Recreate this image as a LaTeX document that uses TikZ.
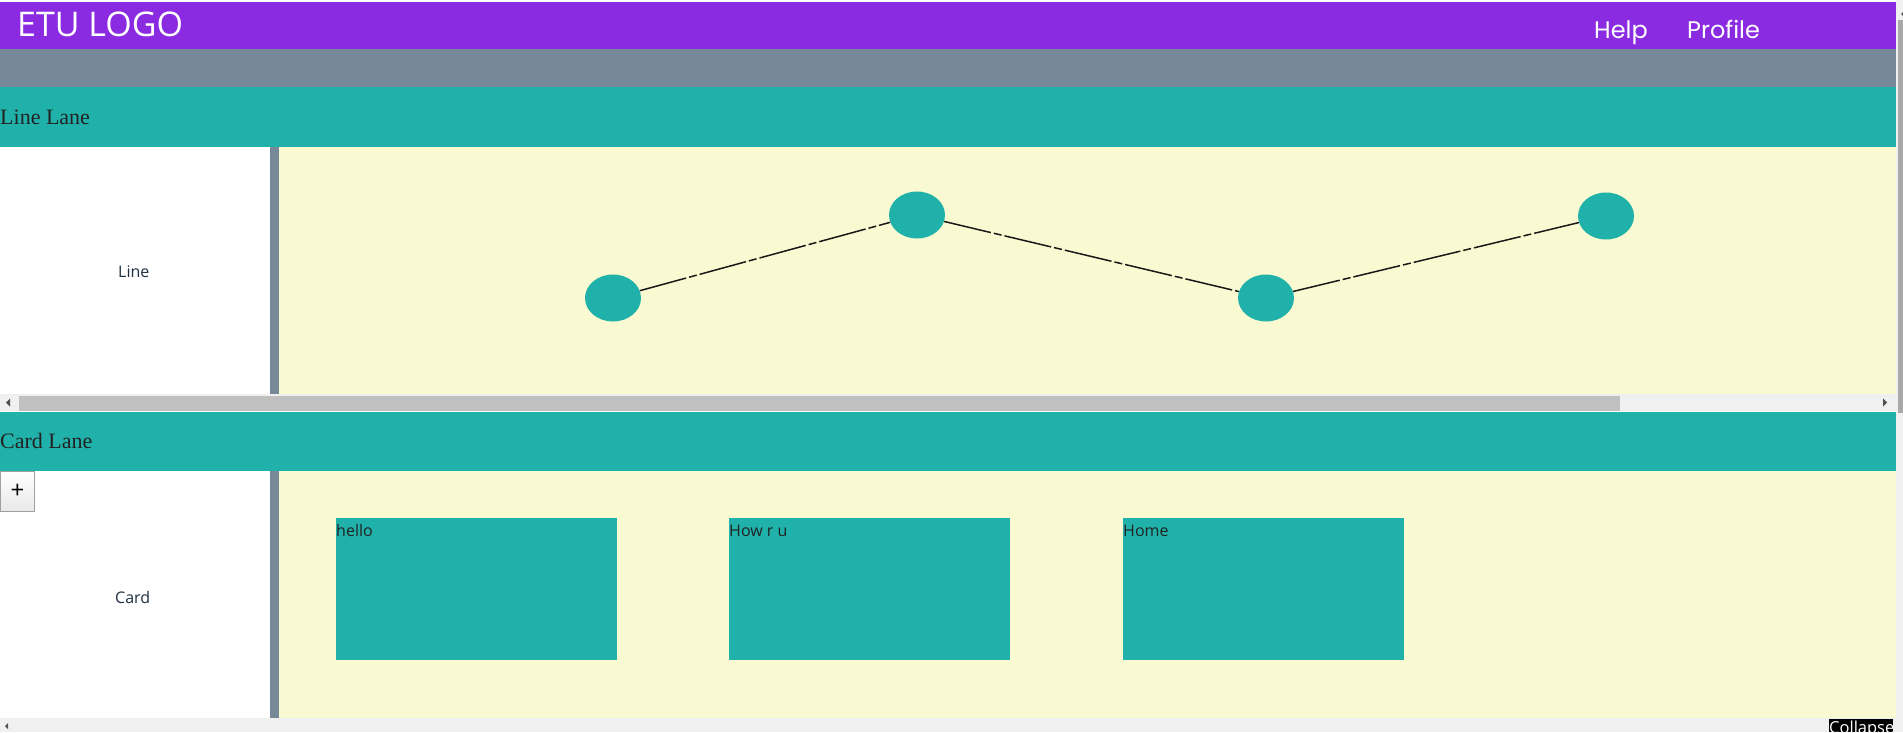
\documentclass[tikz,border=0pt]{standalone}
\usepackage{fontspec}
\setmainfont{Liberation Serif}
\newfontfamily\uifont{Open Sans}
\newfontfamily\navfont{Poppins}
\usetikzlibrary{shapes.geometric}
\definecolor{hdr}{HTML}{8A2BE2}
\definecolor{slate}{HTML}{778899}
\definecolor{lanegreen}{HTML}{20B2AA}
\definecolor{paper}{HTML}{FAFAD2}
\definecolor{track}{HTML}{F0F0F0}
\definecolor{thumb}{HTML}{C0C0C0}
\definecolor{vthumb}{HTML}{A8A8A8}
\definecolor{arrowgray}{HTML}{505050}
\definecolor{inktext}{HTML}{222222}
\definecolor{labeltext}{HTML}{1F2F40}
\definecolor{btnborder}{HTML}{A0A0A0}
\tikzset{
  navtext/.style={text=white, inner sep=0pt, anchor=base west, font=\navfont\fontsize{24}{27}\selectfont},
  logotext/.style={text=white, inner sep=0pt, anchor=base west, font=\uifont\fontsize{34}{37}\selectfont},
  lanetitle/.style={text=inktext, inner sep=0pt, anchor=base west, font=\fontsize{22}{25}\selectfont},
  lanelabel/.style={text=labeltext, inner sep=0pt, anchor=base west, font=\uifont\fontsize{16}{18}\selectfont},
  cardbox/.style={fill=lanegreen, draw=none, anchor=north west, minimum width=281pt, minimum height=142pt, inner sep=0pt},
  cardtext/.style={text=inktext, inner sep=0pt, anchor=base west, font=\uifont\fontsize{16}{18}\selectfont},
  dot/.style={ellipse, fill=lanegreen, draw=none, minimum width=56pt, minimum height=47pt, inner sep=0pt},
  link/.style={draw=black!90, line width=1.5pt, dash pattern=on 48pt off 3pt on 8pt off 3pt},
  btn/.style={draw=btnborder, line width=1pt, top color=white, bottom color=black!9, anchor=north west, minimum width=34pt, minimum height=40pt, inner sep=0pt, font=\uifont\fontsize{24}{26}\selectfont, text=black},
}
\begin{document}
\begin{tikzpicture}[x=1pt,y=-1pt]
\useasboundingbox (0,0) rectangle (1903,732);
\fill[white] (0,0) rectangle (1903,732);
% header bars
\fill[hdr] (0,2) rectangle (1896,49);
\fill[slate] (0,49) rectangle (1896,87);
\fill[lanegreen] (0,87) rectangle (1896,147);
% line lane body
\fill[white] (0,147) rectangle (270,394);
\fill[slate] (270,147) rectangle (279,394);
\fill[paper] (279,147) rectangle (1896,394);
% horizontal scrollbar
\fill[track] (0,394) rectangle (1896,411);
\fill[thumb] (19,396) rectangle (1620,411);
\fill[arrowgray] (6,402.5) -- (10,398.5) -- (10,406.5) -- cycle;
\fill[arrowgray] (1887,402.5) -- (1883,398.5) -- (1883,406.5) -- cycle;
% card lane
\fill[lanegreen] (0,412) rectangle (1896,471);
\fill[white] (0,471) rectangle (270,718);
\fill[slate] (270,471) rectangle (279,718);
\fill[paper] (279,471) rectangle (1896,718);
% bottom scrollbar track
\fill[track] (0,718) rectangle (1896,732);
\fill[arrowgray] (5,726) -- (8,723) -- (8,729) -- cycle;
% vertical scrollbar
\fill[track] (1896,0) rectangle (1903,732);
\fill[vthumb] (1898,20) rectangle (1903,413);
\fill[arrowgray] (1901,14) -- (1903,12) -- (1903,16) -- cycle;

% texts in header
\node[logotext] (logo) at (17,36) {ETU LOGO};
\node[navtext] (help) at (1594,38) {Help};
\node[navtext] (profile) at (1687,38) {Profile};

% lane titles
\node[lanetitle] (linelane) at (0,124) {Line Lane};
\node[lanetitle] (cardlane) at (0,448) {Card Lane};
\node[lanelabel] (linelbl) at (118,277) {Line};
\node[lanelabel] (cardlbl) at (115,603) {Card};

% plus button
\node[btn] (plus) at (0,471) {+};

% line chart
\node[dot] (p1) at (613,298) {};
\node[dot] (p2) at (917,215) {};
\node[dot] (p3) at (1266,298) {};
\node[dot] (p4) at (1606,216) {};
\draw[link] (p1) -- (p2);
\draw[link] (p2) -- (p3);
\draw[link] (p3) -- (p4);

% cards
\node[cardbox] (c1) at (336,518) {};
\node[cardbox] (c2) at (729,518) {};
\node[cardbox] (c3) at (1123,518) {};
\node[cardtext] (t1) at (336,536) {hello};
\node[cardtext] (t2) at (729,536) {How r u};
\node[cardtext] (t3) at (1123,536) {Home};

% collapse button (clipped at page bottom)
\begin{scope}
\clip (1829,719) rectangle (1893,732);
\fill[black] (1829,719) rectangle (1893,732);
\node[text=white, inner sep=0pt, anchor=base west, font=\uifont\fontsize{16.5}{18}\selectfont] (collapse) at (1829,733) {Collapse};
\end{scope}
\end{tikzpicture}
\end{document}
